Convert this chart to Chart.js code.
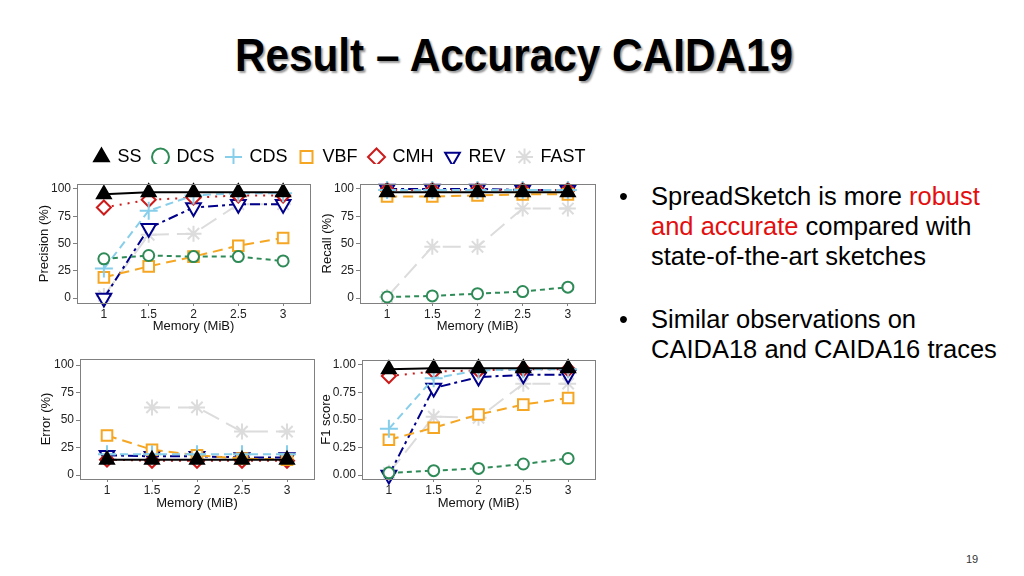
<!DOCTYPE html>
<html>
<head>
<meta charset="utf-8">
<script src="https://cdn.jsdelivr.net/npm/chart.js@4.4.1/dist/chart.umd.min.js"></script>
<style>
body{margin:0;width:1024px;height:576px;background:#fff;position:relative;overflow:hidden;font-family:"Liberation Sans",Arial,sans-serif}
canvas{position:absolute}
#title{position:absolute;left:0;top:29px;width:1028px;text-align:center;font-weight:bold;font-size:46px;line-height:52px;color:#000;text-shadow:2px 2px 2px #9a9a9a;transform:scaleX(0.92);transform-origin:514px 0}
.dot{position:absolute;left:619px;font-size:25.5px;line-height:30px}
.txt{position:absolute;left:651px;font-size:25.5px;line-height:30px;color:#000;white-space:nowrap}
.red{color:#e30f0f}
#page{position:absolute;left:966px;top:553px;font-size:11px;color:#333}
</style>
</head>
<body>
<div id="title">Result – Accuracy CAIDA19</div>

<canvas id="legend" width="560" height="56" style="left:60px;top:136px"></canvas>
<canvas id="prec" width="284" height="162" style="left:37px;top:172px"></canvas>
<canvas id="rec" width="286" height="162" style="left:320px;top:172px"></canvas>
<canvas id="err" width="286" height="164" style="left:39px;top:347px"></canvas>
<canvas id="f1" width="287" height="163" style="left:319px;top:348px"></canvas>

<div class="dot" style="top:181px">•</div>
<div class="txt" style="top:181px">SpreadSketch is more <span class="red">robust</span><br><span class="red">and accurate</span> compared with<br>state-of-the-art sketches</div>
<div class="dot" style="top:304px">•</div>
<div class="txt" style="top:304px">Similar observations on<br>CAIDA18 and CAIDA16 traces</div>
<div id="page">19</div>

<script>
// memory sizes (MiB)
const memory = [1, 1.5, 2, 2.5, 3];
const names = ['SS', 'DCS', 'CDS', 'VBF', 'CMH', 'REV', 'FAST'];

// Precision (%)
const precSS   = [95, 97, 97, 97, 97];
const precDCS  = [36, 39, 38, 38, 34];
const precCDS  = [27, 80, 94, 96, 96];
const precVBF  = [19, 29, 38, 48, 55];
const precCMH  = [83, 90, 92, 94, 94];
const precREV  = [0, 64, 83, 86, 86];
const precFAST = [2, 58, 59, 86, 86];

// Recall (%)
const recSS   = [97, 97, 97, 97, 97];
const recDCS  = [1, 2, 4, 6, 10];
const recCDS  = [99, 99, 99, 99, 99];
const recVBF  = [93, 93, 94, 95, 95];
const recCMH  = [99, 99, 99, 99, 99];
const recREV  = [100, 100, 100, 99, 99];
const recFAST = [1, 47, 47, 82, 82];

// Error (%)
const errSS   = [14, 14, 14, 14, 14];
const errDCS  = [null, null, null, null, null];
const errCDS  = [19, 19, 19, 19, 19];
const errVBF  = [36, 23, 18, 15, 14];
const errCMH  = [14, 13, 13, 13, 13];
const errREV  = [18, 17, 17, 16, 16];
const errFAST = [null, 61.5, 61.5, 39.5, 39.5];

// F1 score
const f1SS   = [0.96, 0.97, 0.97, 0.97, 0.97];
const f1DCS  = [0.02, 0.04, 0.06, 0.10, 0.15];
const f1CDS  = [0.42, 0.88, 0.95, 0.96, 0.96];
const f1VBF  = [0.32, 0.43, 0.55, 0.64, 0.70];
const f1CMH  = [0.90, 0.94, 0.95, 0.96, 0.96];
const f1REV  = [0.00, 0.79, 0.89, 0.91, 0.91];
const f1FAST = [0.02, 0.53, 0.52, 0.83, 0.83];

const pctTicks = [0, 25, 50, 75, 100];
const f1Ticks = [0, 0.25, 0.5, 0.75, 1];

Chart.defaults.font.family = '"Liberation Sans", Arial, sans-serif';

const styles = {
  SS:   {color: '#000000', fill: '#000000', point: 'triangle', rot: 0,   r: 8,   dash: []},
  DCS:  {color: '#2e8b57', fill: '#ffffff', point: 'circle',   rot: 0,   r: 5.5, dash: [5, 4]},
  CDS:  {color: '#87ceeb', fill: '#87ceeb', point: 'cross',    rot: 0,   r: 9,   dash: [8, 5]},
  VBF:  {color: '#f5a623', fill: '#ffffff', point: 'rect',     rot: 0,   r: 7.5, dash: [10, 6]},
  CMH:  {color: '#cd1b1b', fill: '#ffffff', point: 'rectRot',  rot: 0,   r: 7,   dash: [2, 6]},
  REV:  {color: '#00008b', fill: '#ffffff', point: 'triangle', rot: 180, r: 8.5, dash: [10, 4, 3, 4]},
  FAST: {color: '#dcdcdc', fill: '#dcdcdc', point: 'star',     rot: 0,   r: 8,   dash: [18, 8]}
};

function ds(name, values, legend) {
  const s = styles[name];
  return {
    label: name,
    data: values.map((v, i) => ({x: memory[i], y: v})),
    borderColor: s.color,
    backgroundColor: s.fill,
    borderWidth: 2,
    borderDash: legend ? [] : s.dash,
    pointStyle: s.point,
    pointRotation: s.rot,
    pointRadius: s.r,
    pointHoverRadius: s.r,
    pointBorderWidth: 2,
    pointBackgroundColor: s.fill,
    pointBorderColor: s.color,
    clip: false,
    tension: 0
  };
}

// panel frame, drawn over the data like the original
const boxPlugin = {
  id: 'box',
  afterDatasetsDraw(chart) {
    const a = chart.chartArea, ctx = chart.ctx;
    ctx.save();
    ctx.strokeStyle = '#808080';
    ctx.lineWidth = 1;
    ctx.strokeRect(Math.round(a.left) + 0.5, Math.round(a.top) + 0.5,
      Math.round(a.right - a.left), Math.round(a.bottom - a.top));
    ctx.restore();
  }
};

function panel(id, sets, yMin, yMax, yTicks, yTitle, yFmt, yWidth, xHeight) {
  new Chart(document.getElementById(id), {
    type: 'line',
    data: {datasets: sets},
    options: {
      responsive: false,
      animation: false,
      events: [],
      layout: {padding: {top: 12, right: 4, left: 0, bottom: 0}},
      plugins: {legend: {display: false}, tooltip: {enabled: false}},
      scales: {
        x: {
          type: 'linear', min: 0.7, max: 3.3,
          afterBuildTicks: s => { s.ticks = memory.map(v => ({value: v})); },
          afterFit: s => { s.height = xHeight; },
          ticks: {color: '#222', font: {size: 12}, padding: 1, maxRotation: 0, autoSkip: false,
            callback: v => String(v)},
          grid: {drawOnChartArea: false, drawTicks: true, tickLength: 3, color: '#808080'},
          border: {display: false},
          title: {display: true, text: 'Memory (MiB)', color: '#111', font: {size: 13}, padding: 0}
        },
        y: {
          type: 'linear', min: yMin, max: yMax,
          afterBuildTicks: s => { s.ticks = yTicks.map(v => ({value: v})); },
          afterFit: s => { s.width = yWidth; },
          ticks: {color: '#222', font: {size: 12}, padding: 2, autoSkip: false, callback: yFmt},
          grid: {drawOnChartArea: false, drawTicks: true, tickLength: 4, color: '#808080'},
          border: {display: false},
          title: {display: true, text: yTitle, color: '#111', font: {size: 13}, padding: 0}
        }
      }
    },
    plugins: [boxPlugin]
  });
}

const pct = v => String(v);
const two = v => v.toFixed(2);

panel('prec', [ds('SS', precSS), ds('DCS', precDCS), ds('CDS', precCDS), ds('VBF', precVBF),
  ds('CMH', precCMH), ds('REV', precREV), ds('FAST', precFAST)],
  -4.5, 104.5, pctTicks, 'Precision (%)', pct, 40, 31);

panel('rec', [ds('SS', recSS), ds('DCS', recDCS), ds('CDS', recCDS), ds('VBF', recVBF),
  ds('CMH', recCMH), ds('REV', recREV), ds('FAST', recFAST)],
  -4.5, 104.5, pctTicks, 'Recall (%)', pct, 40, 31);

panel('err', [ds('SS', errSS), ds('DCS', errDCS), ds('CDS', errCDS), ds('VBF', errVBF),
  ds('CMH', errCMH), ds('REV', errREV), ds('FAST', errFAST)],
  -3.6, 105.5, pctTicks, 'Error (%)', pct, 41, 32);

panel('f1', [ds('SS', f1SS), ds('DCS', f1DCS), ds('CDS', f1CDS), ds('VBF', f1VBF),
  ds('CMH', f1CMH), ds('REV', f1REV), ds('FAST', f1FAST)],
  -0.036, 1.045, f1Ticks, 'F1 score', two, 43, 32);

// shared legend
new Chart(document.getElementById('legend'), {
  type: 'line',
  data: {datasets: names.map(n => ds(n, [], true))},
  options: {
    responsive: false,
    animation: false,
    events: [],
    layout: {padding: 0},
    scales: {x: {display: false}, y: {display: false}},
    plugins: {
      tooltip: {enabled: false},
      legend: {
        display: true, position: 'top',
        labels: {usePointStyle: true, boxWidth: 14, boxHeight: 12, padding: 12,
          color: '#000', font: {size: 18}}
      }
    }
  }
});
</script>
</body>
</html>
